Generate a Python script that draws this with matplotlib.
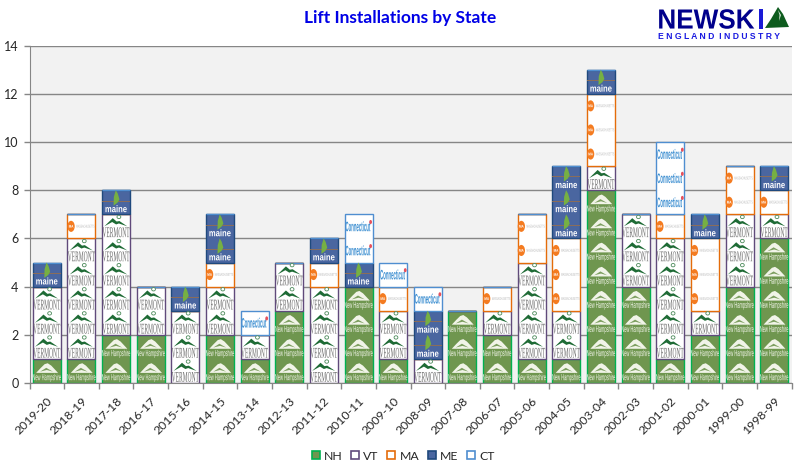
"""Lift installations by state, stacked pictogram columns."""

import numpy as np
from matplotlib import pyplot as plt
from matplotlib.patches import Ellipse, Patch, Polygon
from matplotlib.patheffects import AbstractPathEffect
from matplotlib.transforms import Affine2D

seasons = [
    "2019-20", "2018-19", "2017-18", "2016-17", "2015-16", "2014-15", "2013-14", "2012-13",
    "2011-12", "2010-11", "2009-10", "2008-09", "2007-08", "2006-07", "2005-06", "2004-05",
    "2003-04", "2002-03", "2001-02", "2000-01", "1999-00", "1998-99",
]
nh = [1, 1, 2, 2, 0, 2, 1, 3, 0, 4, 1, 0, 3, 2, 1, 1, 8, 4, 1, 2, 4, 6]
vt = [3, 5, 5, 2, 3, 2, 1, 2, 4, 0, 2, 1, 0, 1, 4, 2, 1, 3, 5, 1, 3, 1]
ma = [0, 1, 0, 0, 0, 1, 0, 0, 1, 0, 1, 0, 0, 1, 2, 3, 3, 0, 1, 3, 2, 1]
me = [1, 0, 1, 0, 1, 2, 0, 0, 1, 1, 0, 2, 0, 0, 0, 3, 1, 0, 0, 1, 0, 1]
ct = [0, 0, 0, 0, 0, 0, 1, 0, 0, 2, 1, 1, 0, 0, 0, 0, 0, 0, 3, 0, 0, 0]

states = ["NH", "VT", "MA", "ME", "CT"]
values = [nh, vt, ma, me, ct]
faces = {"NH": "#6f964f", "VT": "white", "MA": "white", "ME": "#4a66a0", "CT": "white"}
edges = {"NH": "#00b050", "VT": "#604a7b", "MA": "#e46c0a", "ME": "#1f497d", "CT": "#4f8ed0"}

BAR_WIDTH = 0.81
GRAY = "#868686"
plt.rcParams["font.family"] = ["Lato", "DejaVu Sans"]


class Tall(AbstractPathEffect):
    """Stretch a text vertically around its own centre, logos use tall narrow lettering."""

    def __init__(self, factor):
        super().__init__()
        self.factor = factor

    def draw_path(self, renderer, gc, tpath, affine, rgbFace=None):
        box = affine.transform_path(tpath).get_extents()
        cy = (box.y0 + box.y1) / 2
        tall = Affine2D().translate(0, -cy).scale(1, self.factor).translate(0, cy)
        renderer.draw_path(gc, tpath, affine + tall, rgbFace)


def cell_shape(ax, xc, y0, shape, **kwargs):
    # shape points are fractions of one icon cell, u from centre, v from bottom
    pts = [(xc + u * BAR_WIDTH, y0 + v) for u, v in shape]
    ax.add_patch(Polygon(pts, zorder=3, **kwargs))


def cell_text(ax, xc, y0, u, v, label, size, tall, color, family, weight="normal"):
    t = ax.text(
        xc + u * BAR_WIDTH, y0 + v, label, fontsize=size, color=color, family=family,
        weight=weight, ha="center", va="center", zorder=4,
    )
    t.set_path_effects([Tall(tall)])


def icon_nh(ax, xc, y0):
    dome = [(-0.38, 0.42), (-0.22, 0.62), (-0.08, 0.78), (0.03, 0.82), (0.16, 0.72), (0.4, 0.42)]
    cell_shape(ax, xc, y0, dome, fc="#f1f4e8", ec="none")
    cell_shape(ax, xc, y0, [(-0.24, 0.47), (-0.02, 0.63), (0.22, 0.47), (0.0, 0.54)], fc="#7d9f60", ec="none")
    cell_text(ax, xc, y0, 0, 0.21, "New Hampshire", 2.9, 2.2, "#f4f6ec", "Liberation Sans")


def icon_vt(ax, xc, y0):
    ridge = [(-0.42, 0.5), (-0.12, 0.84), (0.02, 0.7), (0.12, 0.72), (0.4, 0.5), (0.1, 0.62), (0.0, 0.58), (-0.14, 0.68)]
    cell_shape(ax, xc, y0, ridge, fc="#1e6b35", ec="none")
    ax.add_patch(Ellipse((xc + 0.1 * BAR_WIDTH, y0 + 0.89), 0.11, 0.14, fc="white", ec="#4b8a5a", lw=0.6, zorder=3))
    cell_text(ax, xc, y0, 0, 0.22, "VERMONT", 3.95, 2.7, "#6a6a6a", "Liberation Serif")


def icon_ma(ax, xc, y0):
    ax.add_patch(Ellipse((xc - 0.37 * BAR_WIDTH, y0 + 0.5), 0.21, 0.46, fc="#f47b20", ec="none", zorder=3))
    cell_text(ax, xc, y0, -0.37, 0.5, "MA", 2.2, 1.3, "white", "Liberation Sans", "bold")
    cell_text(ax, xc, y0, 0.14, 0.5, "MASSACHUSETTS", 1.5, 2.0, "#b8b8b8", "Liberation Sans")


def icon_me(ax, xc, y0):
    cell_shape(ax, xc, y0, [(-0.5, 0.53), (0.5, 0.53), (0.5, 0.57), (-0.5, 0.57)], fc="#8a6d5a", ec="none")
    state = [(-0.09, 0.36), (-0.08, 0.72), (-0.01, 1.0), (0.06, 0.86), (0.12, 0.62), (0.05, 0.48)]
    cell_shape(ax, xc, y0, state, fc="#76b043", ec="none")
    cell_text(ax, xc, y0, 0, 0.18, "maine", 5.5, 1.25, "white", "Liberation Sans", "bold")


def icon_ct(ax, xc, y0):
    cell_text(ax, xc, y0, -0.03, 0.48, "Connecticut", 3.1, 3.2, "#3d8fd1", "Liberation Sans", "bold")
    ax.add_patch(Ellipse((xc + 0.43 * BAR_WIDTH, y0 + 0.68), 0.08, 0.17, fc="#e8505b", ec="none", zorder=4))


icons = {"NH": icon_nh, "VT": icon_vt, "MA": icon_ma, "ME": icon_me, "CT": icon_ct}

fig = plt.figure(figsize=(8, 4.7), dpi=100, facecolor="white")
ax = fig.add_axes([29.5 / 800, (470 - 383) / 470, (791.5 - 29.5) / 800, (383 - 45.6) / 470])
ax.set_facecolor("#f2f2f2")

x = np.arange(len(seasons))
bottoms = np.zeros(len(seasons))
for state, counts in zip(states, values):
    counts = np.array(counts)
    ax.bar(
        x, counts, BAR_WIDTH, bottom=bottoms, color=faces[state], edgecolor=edges[state],
        linewidth=1.0, zorder=2,
    )
    for i, count in enumerate(counts):
        for k in range(count):
            icons[state](ax, x[i], bottoms[i] + k)
    bottoms += counts

ax.set_xlim(-0.5, len(seasons) - 0.5)
ax.set_ylim(0, 14)
ax.set_yticks(range(0, 15, 2))
ax.grid(True, axis="y", color=GRAY, linewidth=1, zorder=1)
ax.set_axisbelow(True)
ax.set_xticks(x)
ax.set_xticklabels(seasons, rotation=45, ha="right", rotation_mode="anchor", fontsize=8.8, color="#262626")
ax.set_xticks(np.arange(len(seasons) + 1) - 0.5, minor=True)
ax.tick_params(axis="x", which="major", length=0, pad=9)
ax.tick_params(axis="x", which="minor", length=4, color=GRAY, width=1)
ax.tick_params(axis="y", length=4, color=GRAY, width=1, labelsize=9, labelcolor="#262626", pad=4)
for side in ("top", "right"):
    ax.spines[side].set_visible(False)
for side in ("left", "bottom"):
    ax.spines[side].set_color(GRAY)

fig.text(0.5, 1 - 18 / 470, "Lift Installations by State", color="#0000e6", fontsize=12.5,
         weight="bold", ha="center", va="center")

handles = [Patch(fc=faces[s], ec=edges[s], lw=1.2, label=s) for s in states]
fig.legend(
    handles=handles, ncol=5, loc="center", bbox_to_anchor=(403 / 800, 1 - 456 / 470), frameon=False,
    fontsize=8.8, handlelength=0.65, handleheight=0.65, handletextpad=0.35, columnspacing=0.7,
    labelcolor="#262626",
)

# logo, placed in figure pixels
fig.text(706 / 800, 1 - 28 / 470, "NEWSK", color="#00008b", fontsize=18.8, weight="bold",
         family="Liberation Sans", ha="center", va="baseline", path_effects=[Tall(1.06)])
fig.text(761 / 800, 1 - 28 / 470, "I", color="#1a1ad6", fontsize=18.8, weight="bold",
         family="Liberation Sans", ha="center", va="baseline", path_effects=[Tall(1.06)])
fig.text(658 / 800, 1 - 39 / 470, "E N G L A N D  I N D U S T R Y", color="#1a1ae0", fontsize=6.2,
         weight="bold", family="Liberation Sans", ha="left", va="baseline")
peak = [(765, 28), (771, 19), (778, 7), (783, 14), (789, 27)]
streak = [(778, 10), (781, 15), (779, 21), (779.5, 15)]
for shape, colour in ((peak, "#0e5c1e"), (streak, "#d9e8d9")):
    fig.add_artist(Polygon([(px / 800, 1 - py / 470) for px, py in shape], transform=fig.transFigure,
                           fc=colour, ec="none"))

fig.savefig("out.png", dpi=100)
